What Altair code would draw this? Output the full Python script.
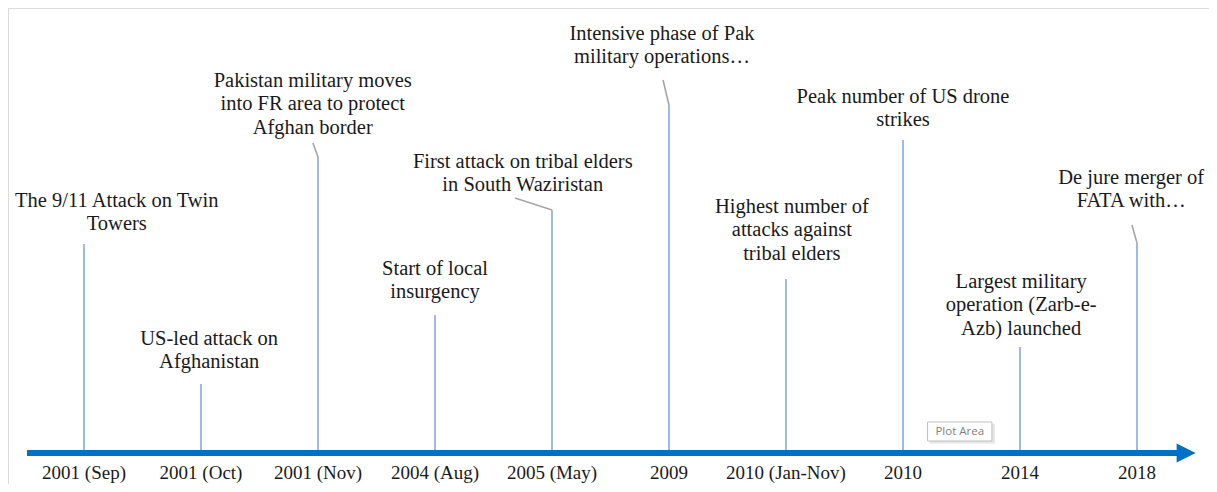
import altair as alt
import pandas as pd

# ---- data ----
categories = ["2001 (Sep)", "2001 (Oct)", "2001 (Nov)", "2004 (Aug)", "2005 (May)",
              "2009", "2010 (Jan-Nov)", "2010", "2014", "2018"]
events = [
    "The 9/11 Attack on Twin\nTowers",
    "US-led attack on\nAfghanistan",
    "Pakistan military moves\ninto FR area to protect\nAfghan border",
    "Start of local\ninsurgency",
    "First attack on tribal elders\nin South Waziristan",
    "Intensive phase of Pak\nmilitary operations…",
    "Highest number of\nattacks against\ntribal elders",
    "Peak number of US drone\nstrikes",
    "Largest military\noperation (Zarb-e-\nAzb) launched",
    "De jure merger of\nFATA with…",
]
# stem heights (chart units above the time axis)
stem_height = [209, 69, 296, 138, 243, 348, 174, 313, 106, 210]
# data-label anchor: x (category index units) and first-line level
label_x = [0.28, 1.07, 1.955, 3.0, 3.75, 4.94, 6.05, 7.0, 8.01, 8.95]
label_y = [246, 108, 366, 178, 285, 413, 240, 350, 165, 269]
# leader lines (label end point), None where label sits directly above stem
leader_x = [None, None, 1.957, None, 3.684, 4.949, None, None, None, 8.957]
leader_y = [None, None, 310, None, 255, 373, None, None, None, 228]

LINE_GAP = 23.4
FONT = "Liberation Serif"

n = len(categories)
idx = list(range(n))

stems = pd.DataFrame({"x": idx, "y0": [0] * n, "y1": stem_height})

lead_rows = []
for i in idx:
    if leader_x[i] is not None:
        lead_rows.append({"x": leader_x[i], "y": leader_y[i], "x2": i, "y2": stem_height[i]})
leaders = pd.DataFrame(lead_rows)

text_rows = []
for i in idx:
    for k, line in enumerate(events[i].split("\n")):
        text_rows.append({"x": label_x[i], "y": label_y[i] - k * LINE_GAP, "t": line})
texts = pd.DataFrame(text_rows)

cats = pd.DataFrame({"x": idx, "y": [-25.5] * n, "t": categories})

XDOM = [-0.6496, 9.6154]
YDOM = [-31, 445]
xs = alt.Scale(domain=XDOM, nice=False, zero=False)
ys = alt.Scale(domain=YDOM, nice=False, zero=False)

axis_line = pd.DataFrame({"x": [-0.487], "x2": [9.37], "y": [0]})
arrow = pd.DataFrame({"x": [9.42], "y": [0]})
border = pd.DataFrame({"x": [XDOM[0] + 0.001], "y": [YDOM[0]], "y2": [YDOM[1]]})
tip = pd.DataFrame({"x": [7.21], "x2": [7.76], "y": [31], "y2": [12], "xc": [7.485], "yc": [21], "t": ["Plot Area"]})
tip_shadow = pd.DataFrame({"x": [7.225], "x2": [7.785], "y": [29], "y2": [9.5]})

X = lambda f="x": alt.X(f, type="quantitative", scale=xs, axis=None)
Y = lambda f="y": alt.Y(f, type="quantitative", scale=ys, axis=None)

border_l = alt.Chart(border).mark_rule(color="#D9D9D9", strokeWidth=1).encode(
    x=X(), y=Y(), y2="y2")

stem_l = alt.Chart(stems).mark_rule(color="#5B8ED6", strokeWidth=1.2).encode(
    x=X(), y=Y("y0"), y2="y1")

lead_l = alt.Chart(leaders).mark_rule(color="#A6A6A6", strokeWidth=1.6).encode(
    x=X(), y=Y(), x2="x2", y2="y2")

axis_l = alt.Chart(axis_line).mark_rule(color="#0070C0", strokeWidth=6).encode(
    x=X(), x2="x2", y=Y())

arrow_l = alt.Chart(arrow).mark_point(
    shape="M-1,-1L1,0L-1,1Z", filled=True, color="#0070C0", opacity=1, size=360, strokeWidth=0
).encode(x=X(), y=Y())

text_l = alt.Chart(texts).mark_text(
    font=FONT, fontSize=20.5, color="#1a1a1a", align="center", baseline="alphabetic"
).encode(x=X(), y=Y(), text="t:N")

cat_l = alt.Chart(cats).mark_text(
    font=FONT, fontSize=19, color="#1a1a1a", align="center", baseline="alphabetic"
).encode(x=X(), y=Y(), text="t:N")

shadow_l = alt.Chart(tip_shadow).mark_rect(color="#E6E6E6").encode(
    x=X(), x2="x2", y=Y(), y2="y2")
tip_l = alt.Chart(tip).mark_rect(fill="white", stroke="#BFBFBF", strokeWidth=1).encode(
    x=X(), x2="x2", y=Y(), y2="y2")
tip_t = alt.Chart(tip).mark_text(
    font="Open Sans", fontSize=11.5, color="#7F7F7F", align="center", baseline="middle"
).encode(x=X("xc"), y=Y("yc"), text="t:N")

chart = alt.layer(
    border_l, stem_l, lead_l, axis_l, arrow_l, text_l, cat_l, shadow_l, tip_l, tip_t
).properties(
    width=1201, height=476, padding=0, autosize=alt.AutoSizeParams(type="none")
).configure_view(stroke=None).configure(background="white")

chart.save("out.html", embed_options={"renderer": "svg", "actions": False})
